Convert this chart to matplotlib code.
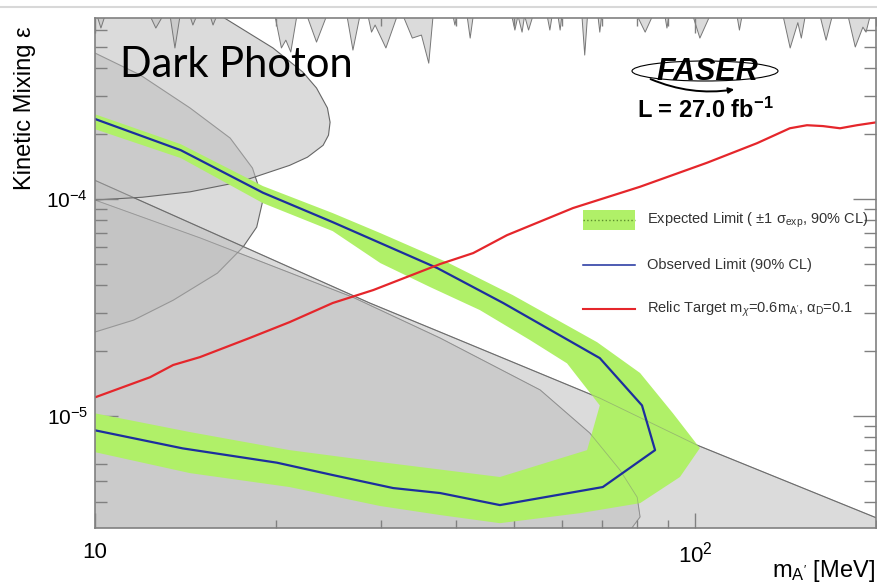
import numpy as np
import matplotlib
matplotlib.use("Agg")
import matplotlib.pyplot as plt
from matplotlib.lines import Line2D
from matplotlib.patches import Ellipse, FancyArrowPatch, Rectangle
from matplotlib.ticker import LogLocator, NullFormatter

plt.rcParams["font.family"] = ["Liberation Sans", "DejaVu Sans"]
plt.rcParams["mathtext.fontset"] = "custom"
plt.rcParams["mathtext.rm"] = "Liberation Sans"
plt.rcParams["mathtext.it"] = "Liberation Sans:italic"
plt.rcParams["mathtext.bf"] = "Liberation Sans:bold"

XLIM = (10.0, 200.3)
YLIM = (3.05e-6, 6.83e-4)

# observed 90% CL contour: lower branch -> turnover -> upper branch
obs_m = [10.0, 14.0, 20.1, 24.9, 31.4, 37.6, 47.3, 70.2, 85.8, 81.6, 69.4, 47.9, 37.2, 24.9, 19.05, 13.9, 10.0]
obs_eps = [8.6e-6, 7.1e-6, 6.1e-6, 5.35e-6, 4.66e-6, 4.42e-6, 3.89e-6, 4.71e-6, 6.97e-6, 1.12e-5,
           1.85e-5, 3.32e-5, 4.81e-5, 7.83e-5, 1.07e-4, 1.68e-4, 2.34e-4]

# expected limit, +-1 sigma band (outer and inner edge of the band)
exp_out_m = [10.0, 14.4, 21.1, 29.9, 37.6, 47.3, 64.3, 81.0, 94.4, 101.9,
             91.9, 81.0, 68.7, 49.7, 38.6, 29.9, 24.9, 19.05, 13.9, 10.0]
exp_out_eps = [6.82e-6, 5.46e-6, 4.71e-6, 3.85e-6, 3.50e-6, 3.21e-6, 3.57e-6, 3.97e-6, 5.24e-6, 7.12e-6,
               1.03e-5, 1.58e-5, 2.19e-5, 3.61e-5, 5.12e-5, 6.97e-5, 8.62e-5, 1.148e-4, 1.79e-4, 2.46e-4]
exp_in_m = [10.0, 14.4, 21.1, 29.9, 47.3, 66.1, 69.4, 61.2, 53.1, 43.8, 36.2, 29.9, 24.9, 19.05, 13.9, 10.0]
exp_in_eps = [1.03e-5, 8.44e-6, 6.97e-6, 6.14e-6, 5.24e-6, 6.97e-6, 1.12e-5, 1.75e-5, 2.24e-5, 3.08e-5,
              3.93e-5, 5.07e-5, 7.12e-5, 9.58e-5, 1.545e-4, 2.10e-4]

# relic target, m_chi = 0.6 m_A', alpha_D = 0.1
relic_m = [10.0, 12.35, 13.5, 14.96, 18.1, 21.1, 24.9, 29.1, 37.6, 42.7, 48.6, 62.6, 81.0, 104.7,
           126.9, 143.9, 153.7, 163.4, 174.5, 186.2, 201.0]
relic_eps = [1.22e-5, 1.51e-5, 1.72e-5, 1.87e-5, 2.29e-5, 2.71e-5, 3.32e-5, 3.81e-5, 5.02e-5, 5.64e-5,
             6.82e-5, 9.09e-5, 1.14e-4, 1.47e-4, 1.81e-4, 2.12e-4, 2.19e-4, 2.17e-4, 2.12e-4, 2.19e-4, 2.26e-4]

# existing limits (shaded grey)
bd_upper_m = [16.2, 19.8, 22.2, 23.4, 24.4, 24.65, 24.5, 24.0, 22.6, 21.1, 17.45, 14.4, 12.0, 10.0]
bd_upper_eps = [7.0e-4, 4.97e-4, 3.85e-4, 3.25e-4, 2.63e-4, 2.26e-4, 1.97e-4, 1.77e-4, 1.56e-4, 1.43e-4,
                1.20e-4, 1.08e-4, 1.02e-4, 9.9e-5]
bd_arc_m = [10.0, 11.9, 14.4, 16.8, 18.3, 19.05, 18.6, 17.65, 16.0, 13.5, 11.6, 10.0]
bd_arc_eps = [4.71e-4, 3.73e-4, 2.63e-4, 1.91e-4, 1.39e-4, 9.9e-5, 7.43e-5, 6.01e-5, 4.56e-5, 3.42e-5,
              2.77e-5, 2.44e-5]
bd_wedge_m = [10.0, 28.7, 37.6, 69.4, 100.8, 201.0]
bd_wedge_eps = [1.22e-4, 3.32e-5, 2.44e-5, 1.21e-5, 7.35e-6, 3.39e-6]
bd_lower_m = [10.0, 15.0, 26.9, 37.6, 55.2, 66.8, 75.0, 80.1, 81.0, 78.0]
bd_lower_eps = [9.9e-5, 6.61e-5, 3.53e-5, 2.29e-5, 1.32e-5, 8.35e-6, 5.64e-6, 4.23e-6, 3.43e-6, 2.98e-6]

# prompt-decay resonance searches, lower edge of the excluded band at the top
spk_m = [10.0,
         10.08, 10.23, 10.39, 12.35, 12.63, 12.98, 13.34, 13.59, 13.86,
         14.39, 14.56, 14.78, 15.55, 15.73, 15.96,
         19.95, 20.45, 20.8, 21.2, 21.7, 22.56, 23.4, 24.33, 26.3, 26.91, 27.64,
         28.51, 28.9, 29.3, 30.54, 31.9, 32.62, 33.8, 35.0, 36.0, 36.6,
         39.5, 39.8, 40.1, 41.7, 42.2, 42.7,
         49.5, 50.1, 50.7, 51.5, 52.0, 52.8, 53.7, 56.7, 57.3, 57.8, 59.1, 59.6, 60.0,
         64.8, 65.5, 66.2, 68.9, 69.4, 69.9, 80.1, 82.6, 85.0, 89.1, 89.8, 90.5,
         99.2, 101.9, 105.9, 117.5, 118.6, 119.8,
         140.2, 144.1, 148.4, 150.4, 152.7, 161.6, 165.4, 169.4,
         179.9, 185.0, 190.5, 192.8, 195.9,
         201.0]
spk_eps = [7.0e-4,
           7.0e-4, 6.14e-4, 7.0e-4, 7.0e-4, 6.14e-4, 7.0e-4, 7.0e-4, 4.97e-4, 7.0e-4,
           7.0e-4, 6.34e-4, 7.0e-4, 7.0e-4, 6.34e-4, 7.0e-4,
           7.0e-4, 4.97e-4, 5.40e-4, 4.76e-4, 7.0e-4, 7.0e-4, 5.29e-4, 7.0e-4, 7.0e-4, 4.86e-4, 7.0e-4,
           7.0e-4, 5.88e-4, 6.34e-4, 4.97e-4, 7.0e-4, 7.0e-4, 5.52e-4, 5.70e-4, 4.23e-4, 7.0e-4,
           7.0e-4, 6.34e-4, 7.0e-4, 7.0e-4, 5.52e-4, 7.0e-4,
           7.0e-4, 6.01e-4, 7.0e-4, 5.88e-4, 7.0e-4, 6.01e-4, 7.0e-4, 7.0e-4, 6.01e-4, 7.0e-4,
           7.0e-4, 6.01e-4, 7.0e-4,
           7.0e-4, 4.61e-4, 7.0e-4, 7.0e-4, 5.88e-4, 7.0e-4, 7.0e-4, 5.88e-4, 7.0e-4, 7.0e-4, 6.14e-4, 7.0e-4,
           7.0e-4, 5.52e-4, 7.0e-4, 7.0e-4, 6.01e-4, 7.0e-4,
           7.0e-4, 4.97e-4, 6.5e-4, 5.52e-4, 7.0e-4, 7.0e-4, 5.40e-4, 7.0e-4,
           7.0e-4, 5.02e-4, 6.2e-4, 5.88e-4, 7.0e-4,
           7.0e-4]

legend_labels = [r"Expected Limit ( $\pm$1 σ$_{\mathrm{exp}}$, 90% CL)",
                 "Observed Limit (90% CL)",
                 r"Relic Target m$_{\chi}$=0.6m$_{\mathrm{A'}}$, α$_{\mathrm{D}}$=0.1"]

GREY = (0.75, 0.75, 0.75, 0.55)
EDGE = "#666666"
BAND = "#b0f068"
BLUE = "#1c2f9e"
RED = "#e5262b"

fig = plt.figure(figsize=(8.78, 5.87), dpi=100)
ax = fig.add_axes([0.1082, 0.1005, 0.8895, 0.8688])
ax.set_xscale("log"); ax.set_yscale("log")

lo_m, lo_e = XLIM[0] * 0.95, YLIM[0] * 0.8
ax.fill(bd_lower_m + [lo_m, lo_m], bd_lower_eps + [lo_e, bd_lower_eps[0]],
        facecolor=GREY, edgecolor="#7a7a7a", lw=0.7, zorder=1)
ax.fill(bd_arc_m + [lo_m, lo_m], bd_arc_eps + [bd_arc_eps[-1], bd_arc_eps[0]],
        facecolor=GREY, edgecolor=EDGE, lw=0.8, zorder=1)
ax.fill(bd_wedge_m + [XLIM[1] * 1.05, lo_m, lo_m], bd_wedge_eps + [lo_e, lo_e, bd_wedge_eps[0]],
        facecolor=GREY, edgecolor=EDGE, lw=0.8, zorder=1)
ax.fill(bd_upper_m + [lo_m, lo_m], bd_upper_eps + [bd_upper_eps[-1], bd_upper_eps[0]],
        facecolor=GREY, edgecolor=EDGE, lw=0.8, zorder=1)
ax.fill_between(spk_m, spk_eps, 1e-3, facecolor=GREY, lw=0, zorder=1)
ax.plot(spk_m, spk_eps, color="#777777", lw=0.7, zorder=1)

# expected band, then faint constraint edges visible through it
ax.fill(exp_out_m + exp_in_m[::-1], exp_out_eps + exp_in_eps[::-1], color=BAND, lw=0, zorder=3)
ax.plot(bd_wedge_m, bd_wedge_eps, color="#777777", lw=0.6, alpha=0.45, zorder=3.5)
ax.plot(bd_lower_m, bd_lower_eps, color="#777777", lw=0.6, alpha=0.45, zorder=3.5)

ax.plot(obs_m, obs_eps, color=BLUE, lw=1.6, zorder=5)
ax.plot(relic_m, relic_eps, color=RED, lw=1.6, zorder=6)

ax.set_xlim(*XLIM); ax.set_ylim(*YLIM)
ax.set_xticks([10, 100], labels=["10", r"$10^{2}$"])
ax.set_yticks([1e-5, 1e-4], labels=[r"$10^{-5}$", r"$10^{-4}$"])
ax.xaxis.set_minor_locator(LogLocator(base=10, subs=np.arange(2, 10)))
ax.yaxis.set_minor_locator(LogLocator(base=10, subs=np.arange(2, 10)))
ax.xaxis.set_minor_formatter(NullFormatter()); ax.yaxis.set_minor_formatter(NullFormatter())
ax.tick_params(axis="y", which="major", direction="in", length=16.5, width=1, color="#808080",
               right=True, labelsize=15, pad=5)
ax.tick_params(axis="y", which="minor", direction="in", length=8.5, width=1, color="#808080", right=True)
ax.tick_params(axis="x", which="major", direction="in", length=11, width=1, color="#808080",
               top=True, labelsize=16, pad=10)
ax.tick_params(axis="x", which="minor", direction="in", length=6, width=1, color="#808080", top=True)
for s in ax.spines.values():
    s.set_color("#808080"); s.set_linewidth(1.2); s.set_zorder(8)

# legend drawn by hand in axes fraction
rows = [0.604, 0.516, 0.429]
hx0, hx1, tx = 0.625, 0.691, 0.707
ax.add_patch(Rectangle((hx0, rows[0] - 0.0205), hx1 - hx0, 0.041, transform=ax.transAxes,
                       facecolor=BAND, lw=0, zorder=7))
ax.plot([hx0, hx1], [rows[0]] * 2, transform=ax.transAxes, color="#5c8f2c", ls=":", lw=1, zorder=7)
ax.plot([hx0, hx1], [rows[1]] * 2, transform=ax.transAxes, color=BLUE, lw=1.1, zorder=7)
ax.plot([hx0, hx1], [rows[2]] * 2, transform=ax.transAxes, color=RED, lw=1.5, zorder=7)
for y, lab in zip(rows, legend_labels):
    ax.text(tx, y, lab, transform=ax.transAxes, va="center", ha="left", fontsize=10.5,
            color="#333333", zorder=7)

# labels and annotations in figure coordinates
W, H = 878.0, 587.0
fig.text(25 / W, 1 - 108 / H, "Kinetic Mixing ε", rotation=90, ha="center", va="center", fontsize=17)
fig.text(875 / W, 1 - 577 / H, r"m$_{\mathrm{A'}}$ [MeV]", ha="right", va="baseline", fontsize=17)
fig.text(120 / W, 1 - 77 / H, "Dark Photon", family="Lato", fontsize=30, ha="left", va="baseline")
fig.text(637 / W, 1 - 118 / H, r"L = 27.0 fb$^{\mathbf{-1}}$", fontsize=17, fontweight="bold",
         ha="left", va="baseline")
fig.text(707 / W, 1 - 72 / H, "FASER", fontsize=22, fontweight="bold", fontstyle="italic",
         ha="center", va="center", zorder=10)
fig.add_artist(Ellipse((705 / W, 1 - 71 / H), 146 / W, 20 / H, transform=fig.transFigure,
                       fill=False, lw=0.8, ec="k"))
fig.add_artist(FancyArrowPatch((648 / W, 1 - 78 / H), (737 / W, 1 - 89 / H), transform=fig.transFigure,
                               connectionstyle="arc3,rad=0.15", arrowstyle="-|>", mutation_scale=8,
                               lw=1.4, color="k"))
fig.add_artist(Line2D([0, 1], [1 - 7 / H] * 2, transform=fig.transFigure, color="#d8d8d8", lw=1.5))

fig.savefig("out.png", dpi=100)
